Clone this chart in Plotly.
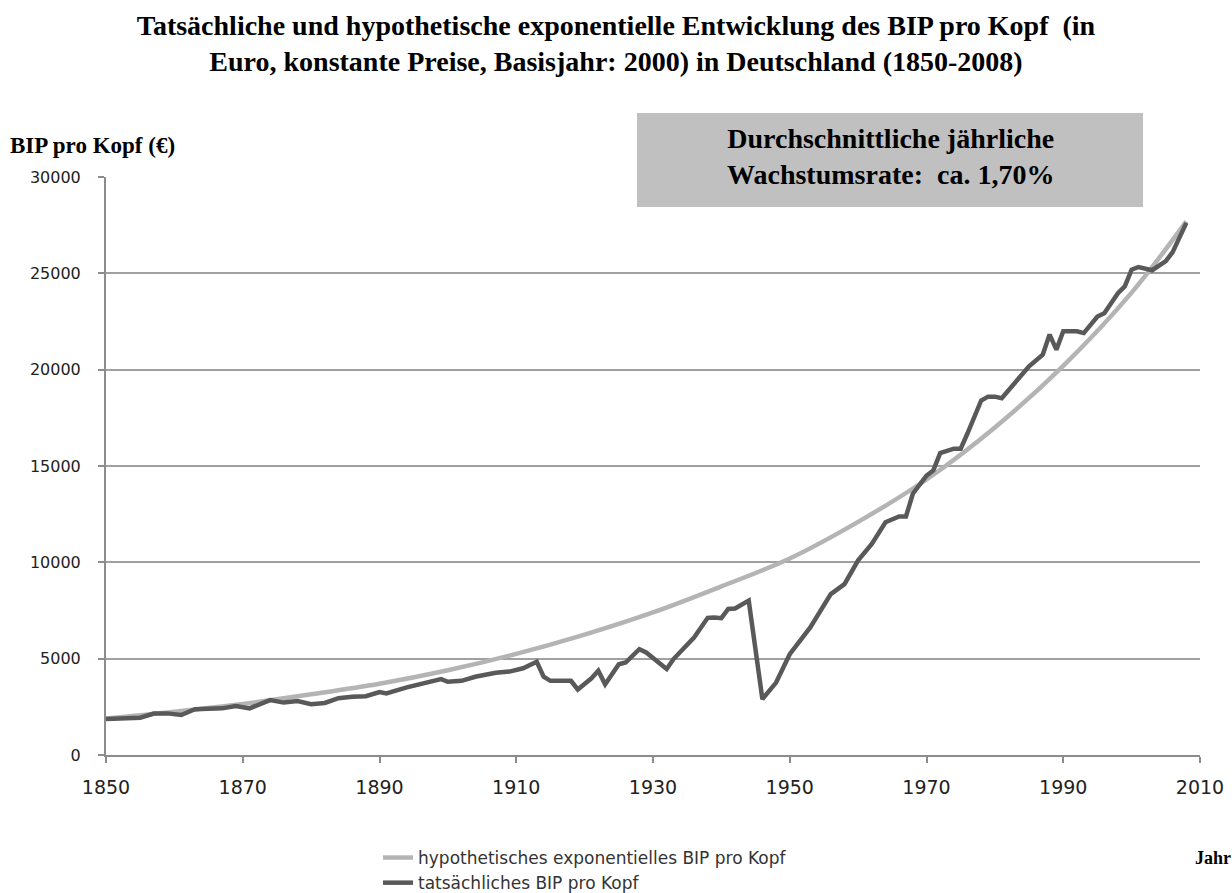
import plotly.graph_objects as go

# Hypothetical exponential GDP per capita
hyp_years = [1850, 1860, 1870, 1880, 1890, 1900, 1910, 1920, 1930, 1940,
             1950, 1960, 1970, 1980, 1990, 2000, 2008]
hyp_values = [1900, 2250, 2650, 3150, 3700, 4400, 5250, 6250, 7400, 8750,
              10200, 12100, 14300, 17000, 20200, 24000, 27700]

act_years = [1850, 1852, 1855, 1857, 1859, 1861, 1863, 1865, 1867, 1869,
             1871, 1874, 1876, 1878, 1880, 1882, 1884, 1886, 1888, 1890,
             1891, 1894, 1897, 1899, 1900, 1902, 1904, 1907, 1909, 1911,
             1913, 1914, 1915, 1918, 1919, 1921, 1922, 1923, 1925, 1926,
             1928, 1929, 1932, 1933, 1936, 1938, 1939, 1940, 1941, 1942,
             1944, 1946, 1948, 1950, 1953, 1956, 1958, 1960, 1962, 1964,
             1966, 1967, 1968, 1970, 1971, 1972, 1974, 1975, 1976, 1978,
             1979, 1980, 1981, 1982, 1985, 1987, 1988, 1989, 1990, 1992,
             1993, 1995, 1996, 1998, 1999, 2000, 2001, 2003, 2005, 2006,
             2008]
act_values = [1870, 1900, 1935, 2150, 2160, 2075, 2380, 2400, 2420, 2540,
              2420, 2850, 2720, 2800, 2640, 2700, 2950, 3020, 3050, 3270,
              3200, 3510, 3750, 3940, 3800, 3850, 4060, 4270, 4330, 4500,
              4840, 4060, 3850, 3850, 3400, 3980, 4370, 3670, 4710, 4800,
              5490, 5320, 4460, 4980, 6100, 7120, 7140, 7100, 7580, 7600,
              8010, 2900, 3760, 5230, 6620, 8350, 8870, 10100, 10950, 12080,
              12380, 12380, 13560, 14500, 14770, 15670, 15900, 15900, 16700, 18400,
              18600, 18600, 18520, 18950, 20170, 20780, 21820, 21040, 21990, 21990,
              21900, 22760, 22930, 23970, 24320, 25190, 25330, 25160, 25630, 26100,
              27620]

x_ticks = [1850, 1870, 1890, 1910, 1930, 1950, 1970, 1990, 2010]
y_ticks = [0, 5000, 10000, 15000, 20000, 25000, 30000]

title_text = ("Tatsächliche und hypothetische exponentielle Entwicklung des BIP pro Kopf  (in"
              "<br>Euro, konstante Preise, Basisjahr: 2000) in Deutschland (1850-2008)")
box_text = "Durchschnittliche jährliche<br>Wachstumsrate:  ca. 1,70%"

SERIF = "Liberation Serif, Times New Roman, serif"
SANS = "DejaVu Sans, sans-serif"

fig = go.Figure()
fig.add_trace(go.Scatter(
    x=hyp_years, y=hyp_values, mode="lines", line_shape="spline",
    name="hypothetisches exponentielles BIP pro Kopf",
    line=dict(color="#b4b4b4", width=4.5)))
fig.add_trace(go.Scatter(
    x=act_years, y=act_values, mode="lines",
    name="tatsächliches BIP pro Kopf",
    line=dict(color="#595959", width=4.5)))

W, H = 1232, 893
L, R, T, B = 106, 32, 177, 138
ph = H - T - B
pw = W - L - R

def px_x(px):
    return (px - L) / pw

def px_y(py):
    return (H - B - py) / ph

fig.update_layout(
    width=W, height=H,
    margin=dict(l=L, r=R, t=T, b=B, autoexpand=False),
    paper_bgcolor="white", plot_bgcolor="white",
    title=dict(text="<b>" + title_text + "</b>", x=0.5, xanchor="center",
               y=1 - 35 / H, yanchor="middle",
               font=dict(family=SERIF, size=28, color="black")),
    font=dict(family=SANS, color="#222222"),
    showlegend=True,
    legend=dict(x=px_x(378), y=px_y(840), xanchor="left", yanchor="top",
                font=dict(family=SANS, size=17, color="#333333"),
                bgcolor="rgba(0,0,0,0)", tracegroupgap=0),
    xaxis=dict(range=[1850, 2010], tickvals=x_ticks, ticktext=[str(v) for v in x_ticks],
               showgrid=False, zeroline=False, showline=True, automargin=False,
               linecolor="#8c8c8c", linewidth=2, ticks="outside", ticklen=6,
               tickcolor="#8c8c8c", tickwidth=2, ticklabelstandoff=8,
               tickfont=dict(family=SANS, size=19, color="#222222")),
    yaxis=dict(range=[0, 30000], tickvals=y_ticks, tickformat="d", automargin=False,
               showgrid=True, gridcolor="#a0a0a0", gridwidth=2, zeroline=False,
               showline=True, linecolor="#8c8c8c", linewidth=2,
               ticks="outside", ticklen=6, tickcolor="#8c8c8c", tickwidth=2,
               ticklabelstandoff=14,
               tickfont=dict(family=SANS, size=16, color="#222222")),
    shapes=[dict(type="rect", xref="paper", yref="paper",
                 x0=px_x(637), x1=px_x(1143), y0=px_y(207), y1=px_y(113),
                 fillcolor="#c0c0c0", line=dict(width=0), layer="above")],
    annotations=[
        dict(text="<b>BIP pro Kopf (€)</b>", xref="paper", yref="paper",
             x=px_x(8), y=px_y(145), xanchor="left", yanchor="middle",
             showarrow=False, font=dict(family=SERIF, size=23, color="black")),
        dict(text="<b>" + box_text + "</b>", xref="paper", yref="paper",
             x=px_x(890), y=px_y(157), xanchor="center", yanchor="middle",
             showarrow=False, align="center",
             font=dict(family=SERIF, size=28, color="black")),
        dict(text="<b>Jahr</b>", xref="paper", yref="paper",
             x=px_x(1233), y=px_y(858), xanchor="right", yanchor="middle",
             showarrow=False, font=dict(family=SERIF, size=18, color="black")),
    ],
)

fig.write_html("out.html", config={"displayModeBar": False},
               post_script="document.body.style.margin='0px';")
